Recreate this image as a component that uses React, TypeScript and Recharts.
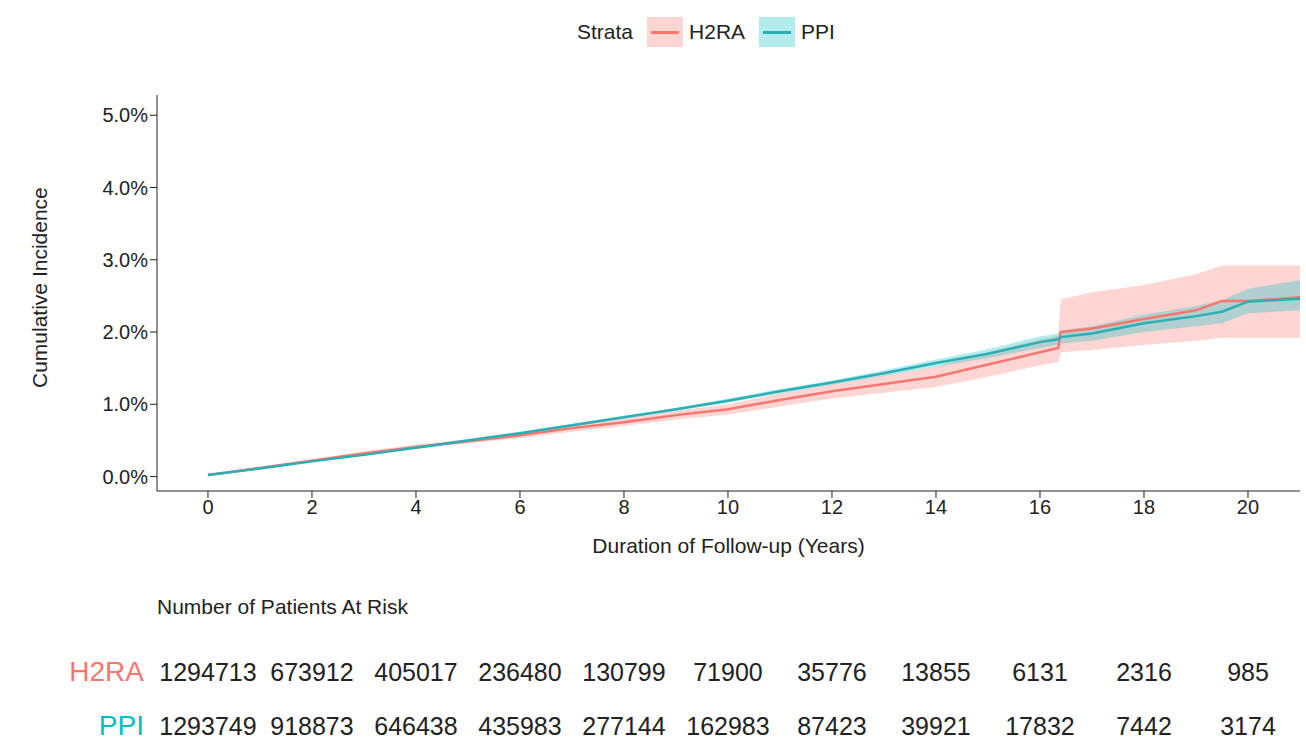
import React from "react";
import { ComposedChart, Line, Area, XAxis, YAxis } from "recharts";

const years = [0, 1, 2, 3, 4, 5, 6, 7, 8, 9, 10, 11, 12, 13, 14, 15, 16, 16.35, 16.4, 17, 18, 19, 19.5, 20, 21];
const h2ra = [0.02, 0.12, 0.22, 0.32, 0.41, 0.49, 0.57, 0.67, 0.75, 0.85, 0.93, 1.06, 1.18, 1.28, 1.38, 1.55, 1.72, 1.78, 2.0, 2.05, 2.18, 2.3, 2.43, 2.43, 2.48];
const h2raLow = [0.01, 0.1, 0.2, 0.29, 0.38, 0.46, 0.53, 0.62, 0.7, 0.79, 0.86, 0.97, 1.08, 1.16, 1.24, 1.38, 1.54, 1.58, 1.72, 1.75, 1.82, 1.88, 1.92, 1.92, 1.92];
const h2raHigh = [0.03, 0.14, 0.24, 0.35, 0.44, 0.52, 0.61, 0.72, 0.8, 0.91, 1.0, 1.15, 1.28, 1.4, 1.52, 1.72, 1.9, 1.95, 2.45, 2.55, 2.65, 2.8, 2.92, 2.92, 2.92];
const ppi = [0.02, 0.11, 0.21, 0.3, 0.4, 0.5, 0.6, 0.71, 0.82, 0.93, 1.05, 1.18, 1.3, 1.43, 1.57, 1.7, 1.86, 1.9, 1.93, 1.98, 2.12, 2.22, 2.28, 2.42, 2.46];
const ppiLow = [0.01, 0.1, 0.2, 0.29, 0.39, 0.48, 0.58, 0.69, 0.8, 0.91, 1.02, 1.15, 1.27, 1.39, 1.52, 1.64, 1.78, 1.82, 1.84, 1.88, 2.0, 2.08, 2.12, 2.26, 2.3];
const ppiHigh = [0.03, 0.12, 0.22, 0.31, 0.41, 0.52, 0.62, 0.73, 0.84, 0.95, 1.08, 1.21, 1.33, 1.47, 1.62, 1.76, 1.94, 1.98, 2.02, 2.08, 2.24, 2.36, 2.44, 2.6, 2.72];

const riskYears = [0, 2, 4, 6, 8, 10, 12, 14, 16, 18, 20];
const riskH2RA = [1294713, 673912, 405017, 236480, 130799, 71900, 35776, 13855, 6131, 2316, 985];
const riskPPI = [1293749, 918873, 646438, 435983, 277144, 162983, 87423, 39921, 17832, 7442, 3174];
const yTicks = [0, 1, 2, 3, 4, 5];

const RED = "#F8766D";
const TEAL = "#00BFC4";
const LINE_TEAL = "#2BAFB4";
const FONT = "'Liberation Sans Narrow', 'Liberation Sans', Arial, sans-serif";

const data = years.map((t, i) => ({
  t,
  h2ra: h2ra[i],
  h2raBand: [h2raLow[i], h2raHigh[i]],
  ppi: ppi[i],
  ppiBand: [ppiLow[i], ppiHigh[i]],
}));

// x pixel for risk table, matching chart domain [-0.98, 21] over plot 157..1300
const xPix = (t: number) => 157 + ((t + 0.98) / 21.98) * (1300 - 157);

function Key({ color, line }: { color: string; line: string }) {
  return (
    <span style={{ display: "inline-block", width: 36, height: 30, background: color, position: "relative", margin: "0 6px" }}>
      <span style={{ position: "absolute", left: 4, right: 4, top: 14, height: 2.5, background: line }} />
    </span>
  );
}

export default function App() {
  const tick = { fontSize: 20, fill: "#222", fontFamily: FONT };
  return (
    <div style={{ position: "absolute", left: 0, top: 0, width: 1306, height: 746, background: "#fff", fontFamily: FONT, color: "#222" }}>
      <div style={{ position: "absolute", top: 17, left: 577, display: "flex", alignItems: "center", fontSize: 21 }}>
        <span style={{ marginRight: 8 }}>Strata</span>
        <Key color="rgba(248,118,109,0.3)" line={RED} />
        <span style={{ marginRight: 8 }}>H2RA</span>
        <Key color="rgba(0,191,196,0.3)" line={LINE_TEAL} />
        <span>PPI</span>
      </div>
      <ComposedChart width={1306} height={575} data={data} margin={{ top: 95, right: 6, left: 0, bottom: 0 }}>
        <XAxis dataKey="t" type="number" domain={[-0.98, 21]} ticks={riskYears} tick={tick} stroke="#222" tickSize={7} height={84}
          label={{ value: "Duration of Follow-up (Years)", position: "insideBottom", offset: 22, style: { fontSize: 21, fill: "#222", fontFamily: FONT } }} />
        <YAxis type="number" domain={[-0.2, 5.28]} ticks={yTicks} tickFormatter={(v) => `${v.toFixed(1)}%`} tick={tick} stroke="#222" tickSize={7} width={157}
          label={{ value: "Cumulative Incidence", angle: -90, position: "insideLeft", offset: 40, dy: 95, style: { fontSize: 21, fill: "#222", fontFamily: FONT } }} />
        <Area dataKey="h2raBand" type="linear" stroke="none" fill={RED} fillOpacity={0.3} isAnimationActive={false} />
        <Area dataKey="ppiBand" type="linear" stroke="none" fill={TEAL} fillOpacity={0.3} isAnimationActive={false} />
        <Line dataKey="h2ra" type="linear" stroke={RED} strokeWidth={2.5} dot={false} isAnimationActive={false} />
        <Line dataKey="ppi" type="linear" stroke={LINE_TEAL} strokeWidth={2.5} dot={false} isAnimationActive={false} />
      </ComposedChart>
      <div style={{ position: "absolute", left: 157, top: 595, fontSize: 21 }}>Number of Patients At Risk</div>
      {[{ name: "H2RA", color: RED, vals: riskH2RA, top: 656 }, { name: "PPI", color: TEAL, vals: riskPPI, top: 710 }].map((row) => (
        <React.Fragment key={row.name}>
          <div style={{ position: "absolute", right: 1306 - 144, top: row.top, fontSize: 28, color: row.color }}>{row.name}</div>
          {row.vals.map((v, i) => (
            <div key={i} style={{ position: "absolute", left: xPix(riskYears[i]) - 70, width: 140, textAlign: "center", top: row.top + 2, fontSize: 25 }}>{v}</div>
          ))}
        </React.Fragment>
      ))}
    </div>
  );
}
